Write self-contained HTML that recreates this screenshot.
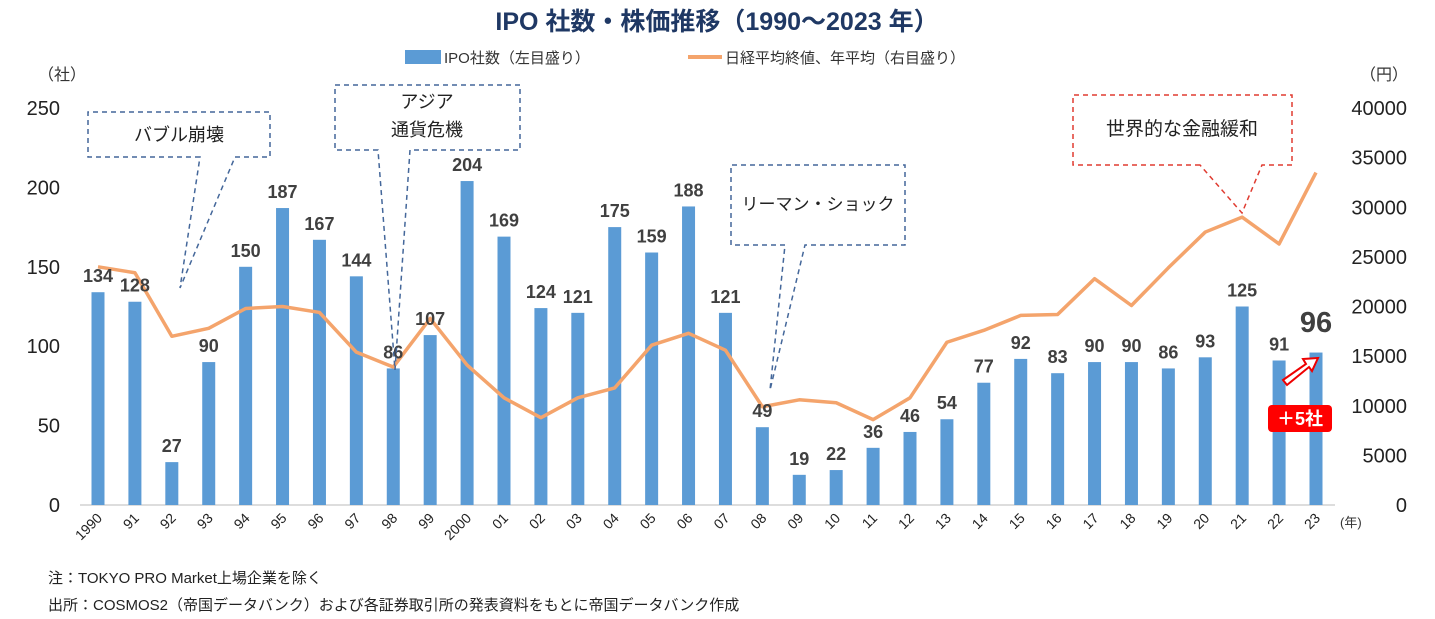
<!DOCTYPE html>
<html><head><meta charset="utf-8">
<style>
body{margin:0;background:#fff;}
svg{display:block;font-family:"Liberation Sans","Noto Sans CJK JP",sans-serif;}
</style></head>
<body>
<svg id="chart" width="1435" height="619" viewBox="0 0 1435 619">
<text x="717" y="30" text-anchor="middle" font-size="25" font-weight="bold" fill="#1f3864">IPO 社数・株価推移（1990～2023 年）</text>
<rect x="405" y="50" width="36" height="14" fill="#5b9bd5"/>
<text x="444" y="63" font-size="15" fill="#333">IPO社数（左目盛り）</text>
<line x1="688" y1="57" x2="722" y2="57" stroke="#f4a46c" stroke-width="4"/>
<text x="725" y="63" font-size="15" fill="#333">日経平均終値、年平均（右目盛り）</text>
<text x="38" y="80" font-size="16" fill="#333">（社）</text>
<text x="1360" y="80" font-size="16" fill="#333">（円）</text>
<text x="1340" y="527" font-size="13" fill="#333">(年)</text>
<g id="axes"></g>
<g id="bars"></g>
<g id="line"></g>
<g id="labels"></g>
<g id="annot" fill="none" stroke-width="1.5" stroke-dasharray="5,4">
<path d="M200,157 L88,157 L88,112 L270,112 L270,157 L235,157 L180,288 Z" stroke="#44679a"/>
<path d="M378,150 L335,150 L335,85 L520,85 L520,150 L410,150 L395,370 Z" stroke="#44679a"/>
<path d="M785,245 L731,245 L731,165 L905,165 L905,245 L805,245 L770,390 Z" stroke="#44679a"/>
<path d="M1200,165 L1073,165 L1073,95 L1292,95 L1292,165 L1262,165 L1242,213 Z" stroke="#e03c31"/>
</g>
<text x="179" y="141" text-anchor="middle" font-size="18" fill="#222">バブル崩壊</text>
<text x="427" y="108" text-anchor="middle" font-size="18" fill="#222">アジア</text>
<text x="427" y="136" text-anchor="middle" font-size="18" fill="#222">通貨危機</text>
<text x="818" y="210" text-anchor="middle" font-size="17" fill="#222">リーマン・ショック</text>
<text x="1182" y="135" text-anchor="middle" font-size="19" fill="#222">世界的な金融緩和</text>
<text x="1316" y="332" text-anchor="middle" font-size="29" font-weight="bold" fill="#404040">96</text>
<path d="M1283,380 L1306,364 L1303,359 L1318,358 L1312,371 L1309,367 L1287,385 Z" fill="#fff" stroke="#e00" stroke-width="2"/>
<rect x="1268" y="405" width="64" height="27" rx="4" fill="#f00"/>
<text x="1300" y="425" text-anchor="middle" font-size="18" font-weight="bold" fill="#fff">＋5社</text>
<text x="48" y="583" font-size="15" fill="#222">注：TOKYO PRO Market上場企業を除く</text>
<text x="48" y="610" font-size="15" fill="#222">出所：COSMOS2（帝国データバンク）および各証券取引所の発表資料をもとに帝国データバンク作成</text>
</svg>
<script>
const years=["1990","91","92","93","94","95","96","97","98","99","2000","01","02","03","04","05","06","07","08","09","10","11","12","13","14","15","16","17","18","19","20","21","22","23"];
const ipoCounts=[134,128,27,90,150,187,167,144,86,107,204,169,124,121,175,159,188,121,49,19,22,36,46,54,77,92,83,90,90,86,93,125,91,96];
const nikkei=[24000,23400,17000,17800,19800,20000,19400,15400,13900,18800,14100,10800,8800,10800,11800,16100,17300,15600,9900,10600,10300,8600,10800,16400,17600,19100,19200,22800,20100,23900,27500,29000,26300,33500];
const leftTicks=[0,50,100,150,200,250];
const rightTicks=[0,5000,10000,15000,20000,25000,30000,35000,40000];
const NS="http://www.w3.org/2000/svg";
const y0=505,y1=108;
function xs(i){return 98+i*(1316-98)/33;}
function yl(v){return y0-(v/250)*(y0-y1);}
function yr(v){return y0-(v/40000)*(y0-y1);}
function mk(tag,attrs,parent,txt){const e=document.createElementNS(NS,tag);for(const k in attrs)e.setAttribute(k,attrs[k]);if(txt!==undefined)e.textContent=txt;document.getElementById(parent).appendChild(e);return e;}
leftTicks.forEach(t=>{
 const e=mk("text",{x:60,y:yl(t)+7,"text-anchor":"end","font-size":"20",fill:"#222"},"axes",t);
 
 
});
rightTicks.forEach(t=>{
 const e=mk("text",{x:1407,y:yr(t)+7,"text-anchor":"end","font-size":"20",fill:"#222"},"axes",t);
 
 
});
const ax=mk("line",{x1:80,y1:y0,x2:1335,y2:y0,stroke:"#bbb","stroke-width":1},"axes");


years.forEach((y,i)=>{
 const e=mk("text",{x:xs(i)+5,y:519,"text-anchor":"end","font-size":"14",fill:"#222",transform:`rotate(-45 ${xs(i)+5} 519)`},"axes",y);
 
 
});
ipoCounts.forEach((v,i)=>{
 const b=mk("rect",{x:xs(i)-6.5,y:yl(v),width:13,height:y0-yl(v),fill:"#5b9bd5"},"bars");
 
 
 if(i<ipoCounts.length-1){
  const t=mk("text",{x:xs(i),y:yl(v)-10,"text-anchor":"middle","font-size":"18","font-weight":"bold",fill:"#404040"},"labels",v);
  
  
 }
});
const pts=nikkei.map((v,i)=>xs(i)+","+yr(v)).join(" ");
const pl=mk("polyline",{points:pts,fill:"none",stroke:"#f4a46c","stroke-width":3.5,"stroke-linejoin":"round"},"line");


</script>
</body></html>
